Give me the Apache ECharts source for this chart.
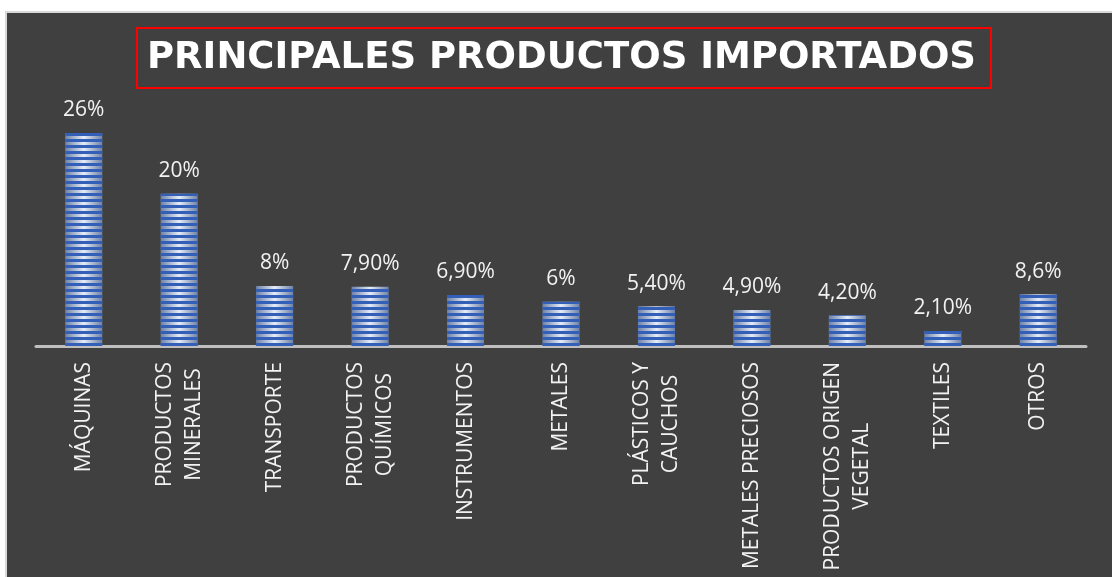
<!DOCTYPE html>
<html>
<head>
<meta charset="utf-8">
<script src="https://cdn.jsdelivr.net/npm/echarts@6/dist/echarts.min.js"></script>
<style>
  html, body { margin: 0; padding: 0; background: #ffffff; width: 1112px; height: 577px; overflow: hidden; }
  #frame { position: absolute; left: 5px; top: 11px; width: 1105px; height: 564px; border-left: 2px solid #d9d9d9; border-top: 2px solid #d9d9d9; background: #404040; }
  #chart { width: 1105px; height: 564px; }
</style>
</head>
<body>
<div id="frame"><div id="chart"></div></div>
<script>
const categories = ['MÁQUINAS', 'PRODUCTOS\nMINERALES', 'TRANSPORTE', 'PRODUCTOS\nQUÍMICOS', 'INSTRUMENTOS', 'METALES', 'PLÁSTICOS Y\nCAUCHOS', 'METALES PRECIOSOS', 'PRODUCTOS ORIGEN\nVEGETAL', 'TEXTILES', 'OTROS'];
const values = [28.4, 20.3, 8.0, 7.9, 6.8, 5.9, 5.3, 4.8, 4.1, 2.0, 6.9];
const valueLabels = ['26%', '20%', '8%', '7,90%', '6,90%', '6%', '5,40%', '4,90%', '4,20%', '2,10%', '8,6%'];
const titleText = 'PRINCIPALES PRODUCTOS IMPORTADOS';

const chart = echarts.init(document.getElementById('chart'), null, { renderer: 'canvas' });
const labelFont = '"Open Sans", sans-serif';

chart.setOption({
  animation: false,
  backgroundColor: '#404040',
  title: {
    text: titleText,
    left: 130,
    top: 15,
    padding: [11, 15, 11, 10],
    borderColor: '#ff0000',
    borderWidth: 2,
    textStyle: {
      color: '#ffffff',
      fontFamily: '"DejaVu Sans", sans-serif',
      fontWeight: 'bold',
      fontSize: 37,
      lineHeight: 38
    }
  },
  grid: { left: 29, right: 26, top: 108, bottom: 231, containLabel: false },
  xAxis: {
    type: 'category',
    data: categories,
    axisLine: { show: true, lineStyle: { color: '#bfbfbf', width: 3 } },
    axisTick: { show: false },
    axisLabel: {
      interval: 0,
      rotate: 90,
      margin: 16,
      color: '#f2f2f2',
      fontFamily: labelFont,
      fontSize: 21,
      lineHeight: 29,
      formatter: function (v) {
        return v.split('\n').map(function (s) { return '{c|' + s + '}'; }).join('\n');
      },
      rich: {
        c: { align: 'center', color: '#f2f2f2', fontFamily: labelFont, fontSize: 21, lineHeight: 29 }
      }
    }
  },
  yAxis: {
    type: 'value',
    min: 0,
    max: 30,
    show: false,
    splitLine: { show: false }
  },
  series: [{
    type: 'bar',
    data: values,
    barWidth: 37,
    itemStyle: {
      color: {
        type: 'linear', x: 0, y: 0, x2: 1, y2: 0,
        colorStops: [
          { offset: 0, color: '#6f82a6' },
          { offset: 0.5, color: '#e4ecf8' },
          { offset: 1, color: '#6f82a6' }
        ]
      },
      decal: {
        symbol: 'rect',
        symbolSize: 1,
        dashArrayX: [1, 0],
        dashArrayY: [2.5, 3],
        color: 'rgba(52, 95, 185, 1)'
      }
    },
    label: {
      show: true,
      position: 'top',
      distance: 12,
      color: '#f2f2f2',
      fontFamily: labelFont,
      fontSize: 21,
      formatter: function (p) { return valueLabels[p.dataIndex]; }
    }
  }]
});
</script>
</body>
</html>
